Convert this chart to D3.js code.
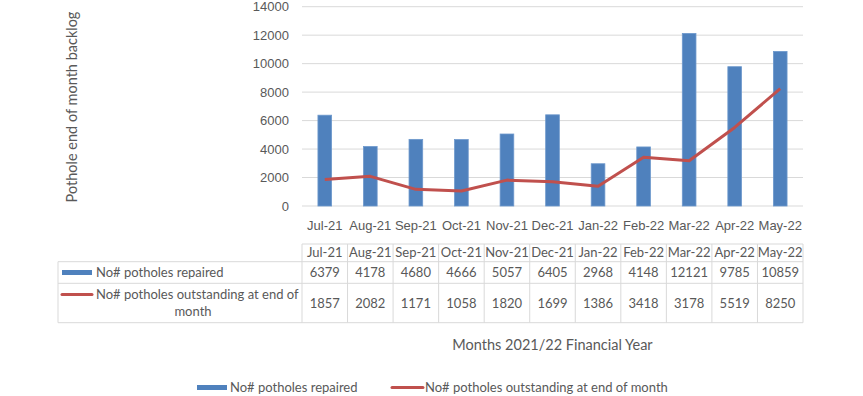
<!DOCTYPE html>
<html lang="en">
<head>
<meta charset="UTF-8">
<title>Potholes repaired and outstanding</title>
<script src="https://cdnjs.cloudflare.com/ajax/libs/d3/7.8.5/d3.min.js"></script>
<style>
  body { margin: 0; background: #fff; }
  svg { display: block; font-family: Lato, "Noto Sans", sans-serif; }
  .tick text { fill: #595959; font-size: 13px; }
</style>
</head>
<body>
<svg width="863" height="396"></svg>
<script>
const months = ["Jul-21", "Aug-21", "Sep-21", "Oct-21", "Nov-21", "Dec-21",
                "Jan-22", "Feb-22", "Mar-22", "Apr-22", "May-22"];
const repaired = [6379, 4178, 4680, 4666, 5057, 6405, 2968, 4148, 12121, 9785, 10859];
const outstanding = [1857, 2082, 1171, 1058, 1820, 1699, 1386, 3418, 3178, 5519, 8250];
const yTicks = [0, 2000, 4000, 6000, 8000, 10000, 12000, 14000];

const seriesNames = ["No# potholes repaired", "No# potholes outstanding at end of month"];
const yTitle = "Pothole end of month backlog";
const xTitle = "Months 2021/22 Financial Year";

const blue = "#4f81bd", red = "#c0504d", grid = "#d9d9d9", txt = "#595959";

const svg = d3.select("svg");
const plotL = 302, plotR = 803, plotT = 6.7, plotB = 206;

const x = d3.scaleBand().domain(months).range([plotL, plotR]);
const y = d3.scaleLinear().domain([0, 14000]).range([plotB, plotT]);

// gridlines
svg.append("g")
    .selectAll("line")
    .data(yTicks)
    .join("line")
    .attr("x1", plotL).attr("x2", plotR)
    .attr("y1", d => y(d)).attr("y2", d => y(d))
    .attr("stroke", grid).attr("stroke-width", 1);

// y axis labels
const yAxis = svg.append("g")
    .attr("transform", `translate(${plotL - 8},0)`)
    .call(d3.axisLeft(y).tickValues(yTicks).tickFormat(d3.format("d")).tickSize(0).tickPadding(5));
yAxis.select(".domain").remove();

// x axis labels
const xAxis = svg.append("g")
    .attr("transform", `translate(0,${plotB + 12})`)
    .call(d3.axisBottom(x).tickSize(0).tickPadding(0));
xAxis.select(".domain").remove();
xAxis.selectAll(".tick text").attr("dy", "0.35em").attr("y", 7);

// bars
const barW = x.bandwidth() * 0.3;
svg.append("g")
    .selectAll("rect")
    .data(months)
    .join("rect")
    .attr("x", d => x(d) + x.bandwidth() / 2 - barW / 2)
    .attr("width", barW)
    .attr("y", (d, i) => y(repaired[i]))
    .attr("height", (d, i) => plotB - y(repaired[i]))
    .attr("fill", blue)
    .attr("stroke", "#6d98cc")
    .attr("stroke-width", 0.8);

// line
const line = d3.line()
    .x((d, i) => x(months[i]) + x.bandwidth() / 2)
    .y(d => y(d));
svg.append("path")
    .datum(outstanding)
    .attr("d", line)
    .attr("fill", "none")
    .attr("stroke", red)
    .attr("stroke-width", 3)
    .attr("stroke-linejoin", "round");

// y axis title
svg.append("text")
    .attr("transform", "translate(72,107) rotate(-90)")
    .attr("text-anchor", "middle")
    .attr("dy", "0.35em")
    .attr("fill", txt)
    .style("font-size", "14.5px")
    .text(yTitle);

// data table
const tHead = 244, tRow1 = 261.7, tRow2 = 283.3, tEnd = 322.7, tLeft = 58;
const table = svg.append("g").attr("stroke", grid).attr("fill", "none");
table.append("line").attr("x1", plotL).attr("x2", plotR).attr("y1", tHead).attr("y2", tHead);
[tRow1, tRow2, tEnd].forEach(v => {
    table.append("line").attr("x1", tLeft).attr("x2", plotR).attr("y1", v).attr("y2", v);
});
table.append("line").attr("x1", tLeft).attr("x2", tLeft).attr("y1", tRow1).attr("y2", tEnd);
months.forEach(m => {
    table.append("line").attr("x1", x(m)).attr("x2", x(m)).attr("y1", tHead).attr("y2", tEnd);
});
table.append("line").attr("x1", plotR).attr("x2", plotR).attr("y1", tHead).attr("y2", tEnd);

const cells = svg.append("g")
    .attr("fill", txt)
    .attr("text-anchor", "middle")
    .style("font-size", "13px");
months.forEach((m, i) => {
    const cx = x(m) + x.bandwidth() / 2;
    cells.append("text").attr("x", cx).attr("y", (tHead + tRow1) / 2).attr("dy", "0.35em").text(m);
    cells.append("text").attr("x", cx).attr("y", (tRow1 + tRow2) / 2).attr("dy", "0.35em").text(repaired[i]);
    cells.append("text").attr("x", cx).attr("y", (tRow2 + tEnd) / 2).attr("dy", "0.35em").text(outstanding[i]);
});

// table legend keys
svg.append("rect").attr("x", 62).attr("y", 270).attr("width", 30).attr("height", 5).attr("fill", blue);
svg.append("line").attr("x1", 62).attr("x2", 92).attr("y1", 294.5).attr("y2", 294.5)
    .attr("stroke", red).attr("stroke-width", 3).attr("stroke-linecap", "round");
cells.append("text").attr("x", 96).attr("y", 272.5).attr("dy", "0.35em")
    .attr("text-anchor", "start").text(seriesNames[0]);
cells.append("text").attr("x", 96).attr("y", 294.5).attr("dy", "0.35em")
    .attr("text-anchor", "start").text("No# potholes outstanding at end of");
cells.append("text").attr("x", 193).attr("y", 311.5).attr("dy", "0.35em").text("month");

// x axis title
svg.append("text")
    .attr("x", 552.5).attr("y", 345).attr("dy", "0.35em")
    .attr("text-anchor", "middle")
    .attr("fill", txt)
    .style("font-size", "14.5px")
    .text(xTitle);

// legend
const legend = svg.append("g").attr("fill", txt).style("font-size", "13px");
legend.append("rect").attr("x", 197).attr("y", 385).attr("width", 30).attr("height", 5).attr("fill", blue);
legend.append("text").attr("x", 230).attr("y", 387.5).attr("dy", "0.35em").text(seriesNames[0]);
legend.append("line").attr("x1", 392).attr("x2", 423).attr("y1", 387.5).attr("y2", 387.5)
    .attr("stroke", red).attr("stroke-width", 3).attr("stroke-linecap", "round");
legend.append("text").attr("x", 425).attr("y", 387.5).attr("dy", "0.35em").text(seriesNames[1]);
</script>
</body>
</html>
